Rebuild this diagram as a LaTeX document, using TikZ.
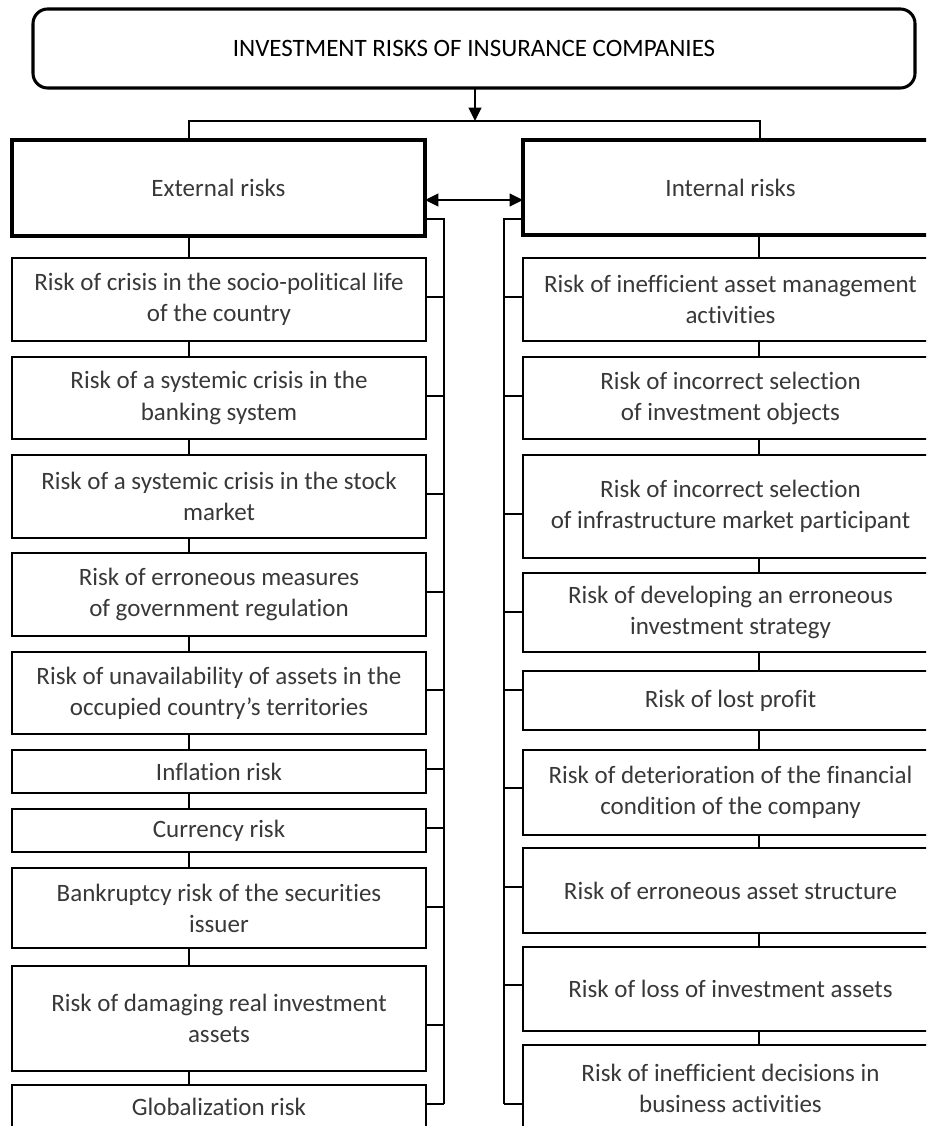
\documentclass[tikz,border=0pt]{standalone}
\usepackage{fontspec}
\setmainfont{Carlito}[Ligatures=NoCommon]
\usetikzlibrary{arrows.meta}
\tikzset{
  every node/.style={font=\fontsize{18.75pt}{23.3pt}\selectfont, text=black!78},
  conn/.style={draw=black, line width=1.5pt},
  itembox/.style={draw=black, line width=1.5pt, inner sep=0pt, outer sep=0pt, align=center},
  mainbox/.style={draw=black, line width=2.7pt, inner sep=0pt, outer sep=0pt, align=center},
  topbox/.style={draw=black, line width=2.3pt, rounded corners=11pt, inner sep=0pt, outer sep=0pt, align=center},
  tip/.style={-{Triangle[length=10pt,width=9.5pt]}},
  dtip/.style={{Triangle[length=10pt,width=9.5pt]}-{Triangle[length=10pt,width=9.5pt]}}
}
\newcommand\LeftItem[4]{\node[itembox, minimum width=310.5pt, minimum height={(#3-#2)*0.75pt}, anchor=north west] (#1) at (12,#2) {#4};}
\newcommand\RightItem[4]{\node[itembox, minimum width=311.25pt, minimum height={(#3-#2)*0.75pt}, anchor=north west] (#1) at (523,#2) {#4};}
\begin{document}
\begin{tikzpicture}[x=0.75pt, y=-0.75pt]
\useasboundingbox (0,0) rectangle (926,1126);
\clip (0,0) rectangle (926,1126);

% top box
\node[topbox, minimum width=661.5pt, minimum height=59.25pt, anchor=north west, text=black] (top) at (33,9)
  {INVESTMENT RISKS OF INSURANCE COMPANIES};

% main boxes
\node[mainbox, minimum width=309.75pt, minimum height=72pt, anchor=north west] (ext) at (12,140) {External risks};
\node[mainbox, minimum width=311.25pt, minimum height=71.25pt, anchor=north west] (int) at (523,140) {Internal risks};

% connector from top
\coordinate (hl) at (189,121);
\coordinate (hr) at (760,121);
\coordinate (atip) at (475,121);
\draw[conn, tip] (top.south -| atip) -- (atip);
\draw[conn] (ext.north -| hl) -- (hl) -- (hr) -- (int.north -| hr);

% double arrow between main boxes
\draw[conn, dtip] (ext.east |- 0,200) -- (int.west |- 0,200);

% left items
\LeftItem{e1}{258}{341}{Risk of crisis in the socio-political life\\of the country}
\LeftItem{e2}{357}{439}{Risk of a systemic crisis in the\\banking system}
\LeftItem{e3}{455}{538}{Risk of a systemic crisis in the stock\\market}
\LeftItem{e4}{553}{636}{Risk of erroneous measures\\of government regulation}
\LeftItem{e5}{652}{734}{Risk of unavailability of assets in the\\occupied country’s territories}
\LeftItem{e6}{750}{793}{Inflation risk}
\LeftItem{e7}{809}{852}{Currency risk}
\LeftItem{e8}{868}{948}{Bankruptcy risk of the securities\\issuer}
\LeftItem{e9}{966}{1071}{Risk of damaging real investment\\assets}
\LeftItem{e10}{1085}{1128}{Globalization risk}

% right items
\RightItem{i1}{258}{341}{Risk of inefficient asset management\\activities}
\RightItem{i2}{357}{439}{Risk of incorrect selection\\of investment objects}
\RightItem{i3}{455}{558}{Risk of incorrect selection\\of infrastructure market participant}
\RightItem{i4}{573}{652}{Risk of developing an erroneous\\investment strategy}
\RightItem{i5}{671}{730}{Risk of lost profit}
\RightItem{i6}{750}{835}{Risk of deterioration of the financial\\condition of the company}
\RightItem{i7}{848}{933}{Risk of erroneous asset structure}
\RightItem{i8}{947}{1031}{Risk of loss of investment assets}
\RightItem{i9}{1045}{1131}{Risk of inefficient decisions in\\business activities}

% vertical chain connectors
\coordinate (lc) at (189,0);
\coordinate (rc) at (759,0);
\foreach \a/\b in {ext/e1,e1/e2,e2/e3,e3/e4,e4/e5,e5/e6,e6/e7,e7/e8,e8/e9,e9/e10}
  \draw[conn] (\a.south -| lc) -- (\b.north -| lc);
\foreach \a/\b in {int/i1,i1/i2,i2/i3,i3/i4,i4/i5,i5/i6,i6/i7,i7/i8,i8/i9}
  \draw[conn] (\a.south -| rc) -- (\b.north -| rc);

% left bracket
\coordinate (lb) at (444,1104);
\draw[conn] (ext.east |- 0,219) -| (lb);
\foreach \n/\y in {e1/297,e2/396,e3/494,e4/592,e5/690,e6/769,e7/828,e8/907,e9/1025,e10/1104}
  \draw[conn] (\n.east |- 0,\y) -- (444,\y);

% right bracket
\coordinate (rb) at (504,1104);
\draw[conn] (int.west |- 0,219) -| (rb);
\foreach \n/\y in {i1/297,i2/396,i3/514,i4/612,i5/690,i6/788,i7/887,i8/985,i9/1104}
  \draw[conn] (\n.west |- 0,\y) -- (504,\y);
\end{tikzpicture}
\end{document}
